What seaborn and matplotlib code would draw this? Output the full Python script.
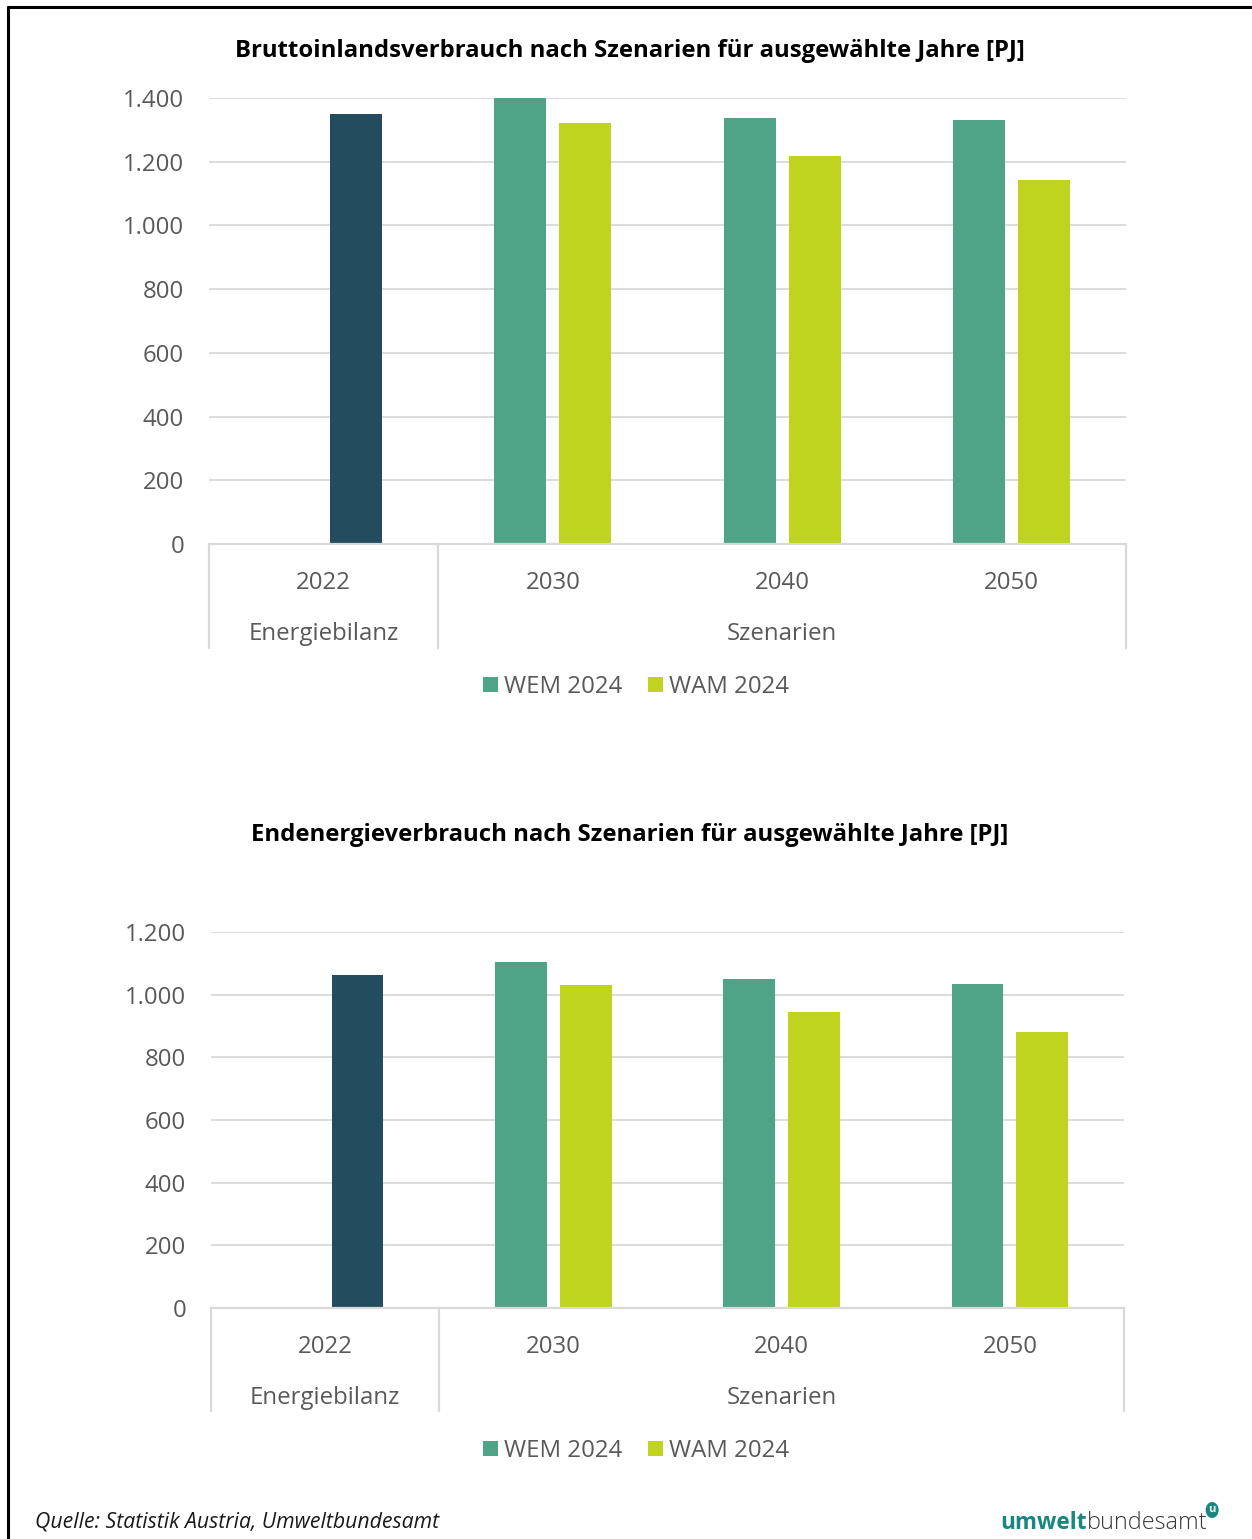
import matplotlib
matplotlib.use("Agg")
import matplotlib.pyplot as plt
import matplotlib.transforms as mtransforms
from matplotlib.lines import Line2D
from matplotlib.patches import Patch, Circle
import pandas as pd
import seaborn as sns

# ---- data -------------------------------------------------------------
years = ["2022", "2030", "2040", "2050"]
groups = ["Energiebilanz", "Szenarien"]
series_names = ["Energiebilanz", "WEM 2024", "WAM 2024"]

# Bruttoinlandsverbrauch [PJ]
bivb_energiebilanz = [1350, None, None, None]
bivb_wem = [None, 1400, 1337, 1331]
bivb_wam = [None, 1322, 1218, 1143]

# Endenergieverbrauch [PJ]
eev_energiebilanz = [1063, None, None, None]
eev_wem = [None, 1104, 1050, 1034]
eev_wam = [None, 1031, 945, 881]

title_top = "Bruttoinlandsverbrauch nach Szenarien für ausgewählte Jahre [PJ]"
title_bottom = "Endenergieverbrauch nach Szenarien für ausgewählte Jahre [PJ]"
yticks_top = [0, 200, 400, 600, 800, 1000, 1200, 1400]
yticks_bottom = [0, 200, 400, 600, 800, 1000, 1200]
source_text = "Quelle: Statistik Austria, Umweltbundesamt"

# ---- style ------------------------------------------------------------
sns.set_theme(style="white")
plt.rcParams["font.family"] = ["Open Sans", "DejaVu Sans"]

colors = {"Energiebilanz": "#234D5E", "WEM 2024": "#4FA387", "WAM 2024": "#BFD41E"}
offsets = {"Energiebilanz": 0.142, "WEM 2024": -0.142, "WAM 2024": 0.142}
grid_col = "#D9D9D9"
text_col = "#595959"
fs = 17.3

W, H = 1252, 1539
fig = plt.figure(figsize=(W / 100, H / 100), dpi=100)


def fx(px):
    return px / W


def fy(py):
    return 1 - py / H


def build_frame(e, wem, wam):
    rows = []
    for name, vals in zip(series_names, [e, wem, wam]):
        for i, v in enumerate(vals):
            if v is not None:
                rows.append({"pos": i + offsets[name], "value": v, "series": name})
    return pd.DataFrame(rows)


def draw_panel(rect_px, data, ymax, yticks, title, title_y, legend_y, sep_px):
    left, top, right, bottom = rect_px
    ax = fig.add_axes([fx(left), fy(bottom), fx(right) - fx(left), fy(top) - fy(bottom)])
    sns.barplot(data=data, x="pos", y="value", hue="series", hue_order=series_names,
                palette=colors, native_scale=True, dodge=False, saturation=1,
                width=0.8, ax=ax, legend=False, linewidth=0)
    ax.set_xlim(-0.5, 3.5)
    ax.set_ylim(0, ymax)
    ax.set_xlabel("")
    ax.set_ylabel("")
    ax.set_xticks([])
    ax.set_yticks(yticks)
    ax.set_yticklabels([f"{t:,}".replace(",", ".") for t in yticks],
                       fontsize=fs, color=text_col)
    ax.tick_params(axis="y", length=0, pad=18)
    for s in ["top", "right", "left"]:
        ax.spines[s].set_visible(False)
    ax.spines["bottom"].set_color(grid_col)
    ax.spines["bottom"].set_linewidth(1.6)
    ax.yaxis.grid(True, color=grid_col, linewidth=1.3)
    ax.set_axisbelow(True)

    axh = bottom - top
    trans = mtransforms.blended_transform_factory(ax.transData, ax.transAxes)
    # category separators below the axis
    for xs in [-0.5, 0.5, 3.5]:
        ax.add_line(Line2D([xs, xs], [0, -sep_px / axh], transform=trans,
                           color=grid_col, linewidth=1.6, clip_on=False))
    for i, yr in enumerate(years):
        ax.text(i, -39 / axh, yr, transform=trans, ha="center", va="center",
                fontsize=fs, color=text_col)
    ax.text(0, -90 / axh, groups[0], transform=trans, ha="center", va="center",
            fontsize=fs, color=text_col)
    ax.text(2, -90 / axh, groups[1], transform=trans, ha="center", va="center",
            fontsize=fs, color=text_col)

    fig.text(fx(630), fy(title_y), title, ha="center", va="center",
             fontsize=17.2, fontweight="bold", color="black")

    handles = [Patch(facecolor=colors[n], edgecolor="none", label=n)
               for n in ["WEM 2024", "WAM 2024"]]
    fig.legend(handles=handles, loc="center", bbox_to_anchor=(fx(636), fy(legend_y)),
               ncol=2, frameon=False, fontsize=fs, labelcolor=text_col,
               handlelength=0.62, handleheight=0.62, handletextpad=0.25,
               columnspacing=1.1, borderpad=0)
    return ax


df_top = build_frame(bivb_energiebilanz, bivb_wem, bivb_wam)
df_bottom = build_frame(eev_energiebilanz, eev_wem, eev_wam)

draw_panel((209, 98, 1126, 544), df_top, 1400, yticks_top, title_top, 51, 687, 104)
draw_panel((211, 932, 1124, 1308), df_bottom, 1200, yticks_bottom, title_bottom, 835, 1451, 103)

# frame lines
fig.add_artist(Line2D([fx(8), fx(8)], [fy(7), 0], transform=fig.transFigure,
                      color="black", linewidth=2.2))
fig.add_artist(Line2D([fx(8), 1], [fy(7), fy(7)], transform=fig.transFigure,
                      color="black", linewidth=2.2))

# source line
fig.text(fx(35), fy(1522), source_text, ha="left", va="center", fontsize=15.3,
         style="italic", color="#1A1A1A")

# logo wordmark
fig.canvas.draw()
renderer = fig.canvas.get_renderer()
t1 = fig.text(fx(1000), fy(1529), "umwelt", ha="left", va="baseline", fontsize=16.3,
              fontweight="bold", color="#17877F")
bb = t1.get_window_extent(renderer)
t2 = fig.text(bb.x1 / W, fy(1529), "bundesamt", ha="left", va="baseline", fontsize=16.8,
              fontweight="light", color="#3A3A3A")
bb2 = t2.get_window_extent(renderer)
cx, cy = bb2.x1 + 5, H - 1510
fig.add_artist(Circle((cx / W, cy / H), 6.5 / W, transform=fig.transFigure,
                      facecolor="#17877F", edgecolor="none"))
fig.text(cx / W, cy / H, "u", ha="center", va="center", fontsize=8,
         fontweight="bold", color="white")

fig.savefig("out.png", dpi=100)
